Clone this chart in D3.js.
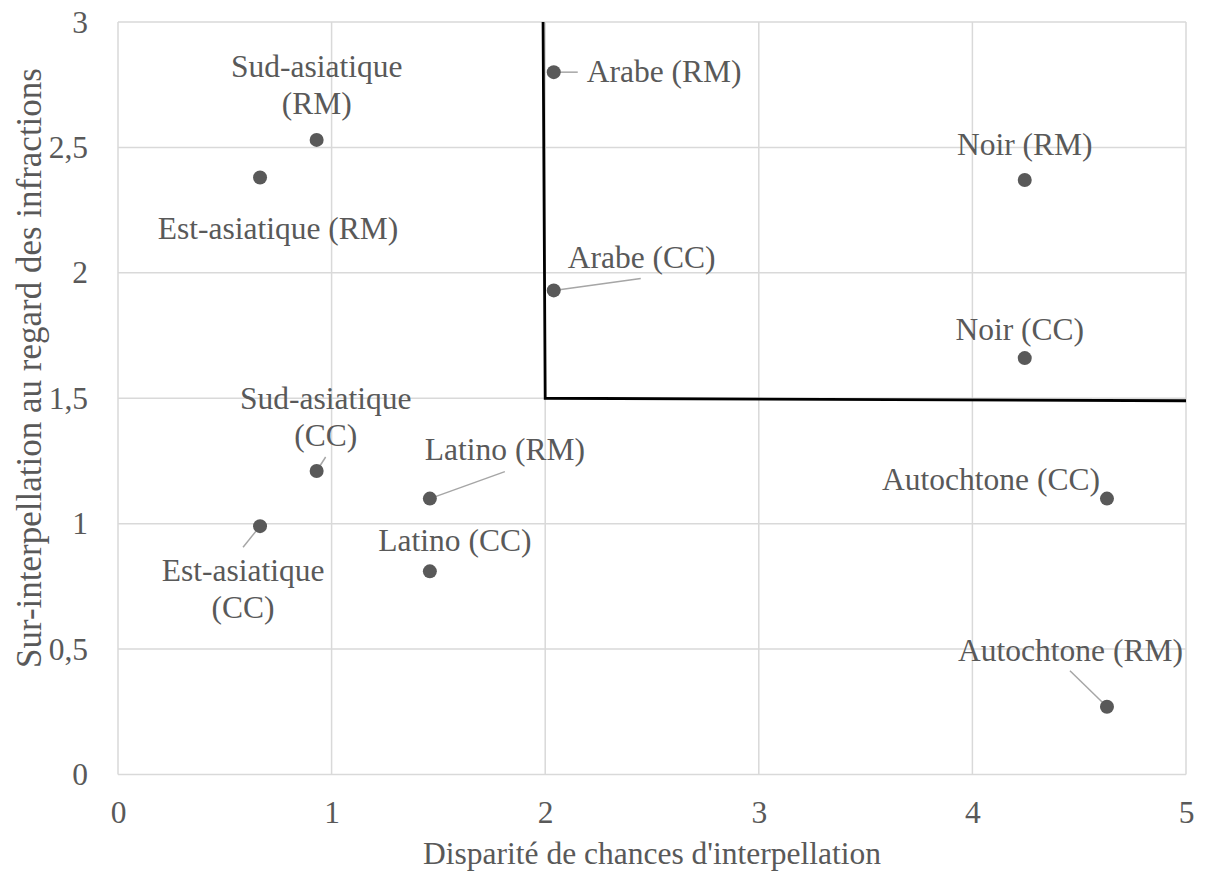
<!DOCTYPE html>
<html>
<head>
<meta charset="utf-8">
<script src="https://cdn.jsdelivr.net/npm/d3@7"></script>
<style>
  body { margin: 0; background: #fff; }
  svg text { font-family: 'Liberation Serif', 'DejaVu Serif', serif; fill: #595959; }
</style>
</head>
<body>
<svg></svg>
<script>
const width = 1205;
const height = 875;
const fontSize = 31.5;
const serifFont = "'Liberation Serif', 'DejaVu Serif', serif";

// data
const groups = ['Sud-asiatique (RM)', 'Est-asiatique (RM)', 'Arabe (RM)', 'Arabe (CC)', 'Noir (RM)', 'Noir (CC)',
  'Sud-asiatique (CC)', 'Latino (RM)', 'Est-asiatique (CC)', 'Latino (CC)', 'Autochtone (CC)', 'Autochtone (RM)'];
const disparity = [0.93, 0.665, 2.04, 2.04, 4.245, 4.245, 0.93, 1.46, 0.665, 1.46, 4.63, 4.63];
const overStop = [2.53, 2.38, 2.80, 1.93, 2.37, 1.66, 1.21, 1.10, 0.99, 0.81, 1.10, 0.27];
const boundaryX = [1.99, 2, 5];
const boundaryY = [3, 1.5, 1.49];
const xTicks = [0, 1, 2, 3, 4, 5];
const yTicks = [0, 0.5, 1, 1.5, 2, 2.5, 3];

// label placement (pixels from the dot): lines, anchor, dx, dy of first baseline, leader end
const labelLayout = [
  { lines: ['Sud-asiatique', '(RM)'], anchor: 'middle', dx: 0, dy: -63 },
  { lines: ['Est-asiatique (RM)'], anchor: 'middle', dx: 18, dy: 61 },
  { lines: ['Arabe (RM)'], anchor: 'start', dx: 33, dy: 10, leader: [24, 0] },
  { lines: ['Arabe (CC)'], anchor: 'start', dx: 14, dy: -22, leader: [87, -12] },
  { lines: ['Noir (RM)'], anchor: 'middle', dx: 0, dy: -25 },
  { lines: ['Noir (CC)'], anchor: 'middle', dx: -5, dy: -18 },
  { lines: ['Sud-asiatique', '(CC)'], anchor: 'middle', dx: 9, dy: -62, leader: [9, -14] },
  { lines: ['Latino (RM)'], anchor: 'middle', dx: 75, dy: -39, leader: [75, -27] },
  { lines: ['Est-asiatique', '(CC)'], anchor: 'middle', dx: -17, dy: 55, leader: [-17, 21] },
  { lines: ['Latino (CC)'], anchor: 'middle', dx: 25, dy: -20 },
  { lines: ['Autochtone (CC)'], anchor: 'end', dx: -7, dy: -9 },
  { lines: ['Autochtone (RM)'], anchor: 'end', dx: 76, dy: -46, leader: [-37, -36] }
];

const plotLeft = 118, plotRight = 1186, plotTop = 22, plotBottom = 774.5;

const svg = d3.select('svg')
  .attr('width', width)
  .attr('height', height);

const x = d3.scaleLinear().domain([0, 5]).range([plotLeft, plotRight]);
const y = d3.scaleLinear().domain([0, 3]).range([plotBottom, plotTop]);

// grid
svg.append('g')
  .selectAll('line')
  .data(xTicks)
  .join('line')
  .attr('x1', d => x(d)).attr('x2', d => x(d))
  .attr('y1', plotTop).attr('y2', plotBottom)
  .attr('stroke', '#d9d9d9')
  .attr('stroke-width', 1.5);

svg.append('g')
  .selectAll('line')
  .data(yTicks)
  .join('line')
  .attr('x1', plotLeft).attr('x2', plotRight)
  .attr('y1', d => y(d)).attr('y2', d => y(d))
  .attr('stroke', '#d9d9d9')
  .attr('stroke-width', 1.5);

// axes (labels only)
const xAxis = svg.append('g')
  .attr('transform', `translate(0, 823)`)
  .call(d3.axisBottom(x).tickValues(xTicks).tickSize(0).tickFormat(d3.format('d')));
xAxis.selectAll('text').attr('y', 0).attr('dy', null);

const yAxis = svg.append('g')
  .attr('transform', `translate(${plotLeft - 27}, 0)`)
  .call(d3.axisLeft(y).tickValues(yTicks).tickSize(0).tickFormat(d => String(d).replace('.', ',')));

[xAxis, yAxis].forEach(a => {
  a.attr('font-family', serifFont);
  a.select('.domain').remove();
  a.selectAll('text')
    .attr('font-size', fontSize)
    .attr('font-family', serifFont)
    .attr('fill', '#595959');
});

// boundary line
const boundary = boundaryX.map((d, i) => [d, boundaryY[i]]);
svg.append('path')
  .datum(boundary)
  .attr('d', d3.line().x(d => x(d[0])).y(d => y(d[1])))
  .attr('fill', 'none')
  .attr('stroke', '#000')
  .attr('stroke-width', 2.8);

// leader lines
const points = groups.map((g, i) => ({ name: g, px: x(disparity[i]), py: y(overStop[i]), lay: labelLayout[i] }));

svg.append('g')
  .selectAll('line')
  .data(points.filter(p => p.lay.leader))
  .join('line')
  .attr('x1', p => p.px).attr('y1', p => p.py)
  .attr('x2', p => p.px + p.lay.leader[0]).attr('y2', p => p.py + p.lay.leader[1])
  .attr('stroke', '#a6a6a6')
  .attr('stroke-width', 1.5);

// dots
svg.append('g')
  .selectAll('circle')
  .data(points)
  .join('circle')
  .attr('cx', p => p.px)
  .attr('cy', p => p.py)
  .attr('r', 7)
  .attr('fill', '#595959');

// data labels
const labels = svg.append('g')
  .selectAll('text')
  .data(points)
  .join('text')
  .attr('font-family', serifFont)
  .attr('font-size', fontSize)
  .attr('text-anchor', p => p.lay.anchor);

labels.selectAll('tspan')
  .data(p => p.lay.lines.map((l, j) => ({ l, x: p.px + p.lay.dx, y: p.py + p.lay.dy + j * 37 })))
  .join('tspan')
  .attr('x', d => d.x)
  .attr('y', d => d.y)
  .text(d => d.l);

// axis titles
svg.append('text')
  .attr('x', (plotLeft + plotRight) / 2)
  .attr('y', 864)
  .attr('text-anchor', 'middle')
  .attr('font-family', serifFont)
  .attr('font-size', fontSize)
  .text("Disparité de chances d'interpellation");

svg.append('text')
  .attr('transform', 'translate(41, 368) rotate(-90)')
  .attr('text-anchor', 'middle')
  .attr('font-family', serifFont)
  .attr('font-size', 35)
  .text('Sur-interpellation au regard des infractions');
</script>
</body>
</html>
